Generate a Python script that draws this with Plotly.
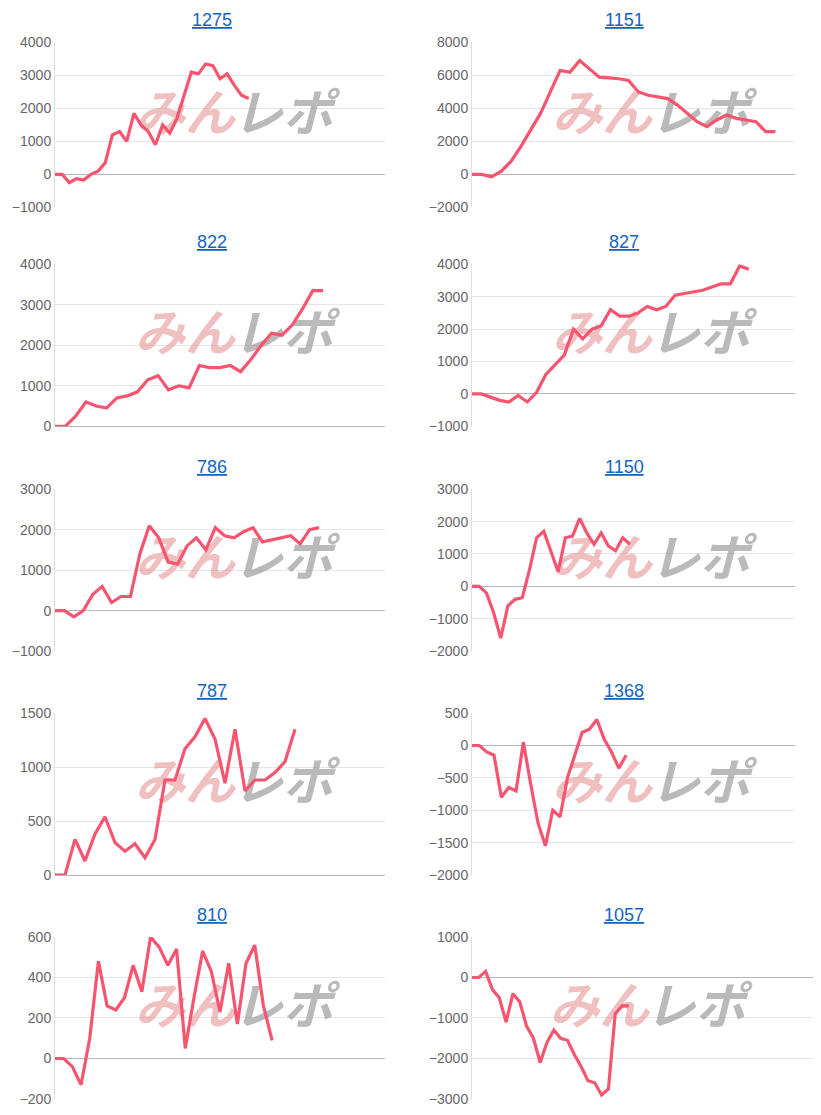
import plotly.graph_objects as go

# page has an 8px body margin, so draw on a slightly smaller canvas
OFF = 8
W, H = 821 - 2 * OFF, 1115 - 2 * OFF

titles = ["1275", "1151", "822", "827", "786", "1150", "787", "1368", "810", "1057"]

s1275 = [0, 0, -250, -130, -170, 0, 100, 350, 1200, 1300, 1000, 1850, 1500, 1300, 900, 1500, 1250,
         1700, 2400, 3100, 3050, 3350, 3300, 2900, 3050, 2700, 2400, 2300]
s1151 = [0, 0, -150, 200, 800, 1700, 2700, 3700, 5000, 6300, 6200, 6900, 6400, 5900, 5850, 5800,
         5700, 5000, 4800, 4700, 4600, 4200, 3700, 3200, 2900, 3300, 3600, 3400, 3300, 3200, 2600, 2600]
s822 = [0, 0, 250, 600, 500, 450, 700, 750, 850, 1150, 1250, 900, 1000, 950, 1500, 1450, 1450, 1500,
        1350, 1650, 2000, 2300, 2250, 2500, 2900, 3350, 3350]
s827 = [0, 0, -100, -200, -250, -50, -250, 50, 600, 900, 1200, 2000, 1700, 2000, 2100, 2600, 2400,
        2400, 2500, 2700, 2600, 2700, 3050, 3100, 3150, 3200, 3300, 3400, 3400, 3950, 3850]
s786 = [0, 0, -150, 0, 400, 600, 200, 350, 350, 1400, 2100, 1800, 1200, 1150, 1600, 1800, 1500, 2050,
        1850, 1800, 1950, 2050, 1700, 1750, 1800, 1850, 1650, 2000, 2050]
s1150 = [0, 0, -200, -800, -1600, -600, -400, -350, 500, 1500, 1700, 1100, 450, 1500, 1550, 2100,
         1650, 1300, 1650, 1250, 1100, 1500, 1300]
s787 = [0, 0, 330, 130, 380, 540, 300, 220, 290, 160, 330, 880, 880, 1170, 1280, 1450, 1260, 850,
        1350, 780, 880, 880, 950, 1050, 1350]
s1368 = [0, 0, -100, -150, -800, -650, -700, 50, -600, -1200, -1550, -1000, -1100, -500, -150, 200,
         250, 400, 100, -100, -350, -150]
s810 = [0, 0, -40, -130, 100, 480, 260, 240, 300, 460, 330, 600, 550, 460, 540, 50, 300, 530, 430,
        230, 470, 170, 470, 560, 260, 90]
s1057 = [0, 0, 150, -300, -500, -1100, -400, -600, -1200, -1500, -2100, -1600, -1300, -1500, -1550,
         -1900, -2200, -2550, -2600, -2900, -2750, -900, -700, -700]

series = [s1275, s1151, s822, s827, s786, s1150, s787, s1368, s810, s1057]
slots = [46, 33, 32, 35, 35, 45, 33, 44, 38, 50]
yranges = [(-1000, 4000), (-2000, 8000), (0, 4000), (-1000, 4000), (-1000, 3000),
           (-2000, 3000), (0, 1500), (-2000, 500), (-200, 600), (-3000, 1000)]
dticks = [1000, 2000, 1000, 1000, 1000, 1000, 500, 500, 200, 1000]

# plot area pixel boxes in the screenshot (top, bottom) and (left, right)
rows_px = [(42, 207), (264, 426), (489, 651), (713, 875), (937, 1100)]
cols_px = [(55, 385), (472, 795)]
title_x = [212, 624]


def px(v):
    return v - OFF


def py(v):
    # vertical calibration measured from an earlier render
    return min((v - 15.5) / 0.986, H)


fig = go.Figure()
for i, (name, ys) in enumerate(zip(titles, series)):
    r, c = divmod(i, 2)
    x0, x1 = cols_px[c]
    if i == 9:
        x1 = 820
    t, b = rows_px[r]
    n = "" if i == 0 else str(i + 1)
    lo, hi = yranges[i]

    # watermark sits under the line, so it goes in as a text trace first
    def to_x(p):
        return (p - x0) / (x1 - x0) * slots[i]
    wy = hi - 0.46 * (hi - lo)
    fig.add_trace(go.Scatter(x=[to_x(x0 + 130), to_x(x0 + 228)], y=[wy, wy], mode="text",
                             text=["<b><i>みん</i></b>", "<b><i>レポ</i></b>"],
                             textfont=dict(family="Noto Sans CJK JP", size=50,
                                           color=["rgba(228,140,140,0.55)", "rgba(140,140,140,0.6)"]),
                             hoverinfo="skip", xaxis="x" + n, yaxis="y" + n, showlegend=False))
    fig.add_trace(go.Scatter(x=list(range(len(ys))), y=ys, mode="lines",
                             line=dict(color="#f7546f", width=3.2),
                             xaxis="x" + n, yaxis="y" + n, showlegend=False))
    fig.layout["xaxis" + n] = dict(domain=[px(x0) / W, min(px(x1) / W, 1)], range=[0, slots[i]],
                                   showticklabels=False, showgrid=False, zeroline=False,
                                   fixedrange=True, anchor="y" + n)
    fig.layout["yaxis" + n] = dict(domain=[1 - py(b) / H, 1 - py(t) / H], range=[lo, hi],
                                   dtick=dticks[i], showgrid=True, gridcolor="#e6e6e6",
                                   zeroline=True, zerolinecolor="#b5b5b5", zerolinewidth=1,
                                   showline=True, linecolor="#e0e0e0",
                                   tickfont=dict(family="Arial, Liberation Sans", size=14, color="#666"),
                                   ticks="", anchor="x" + n)
    fig.add_annotation(text="<u>" + name + "</u>", x=px(title_x[c]) / W, y=1 - py(t - 22) / H,
                       xref="paper", yref="paper", showarrow=False, yanchor="middle",
                       xanchor="center",
                       font=dict(family="Arial, Liberation Sans", size=18, color="#1565c0"))

fig.update_layout(width=W, height=H, margin=dict(l=0, r=0, t=0, b=0),
                  paper_bgcolor="white", plot_bgcolor="white")
fig.write_html("out.html")
